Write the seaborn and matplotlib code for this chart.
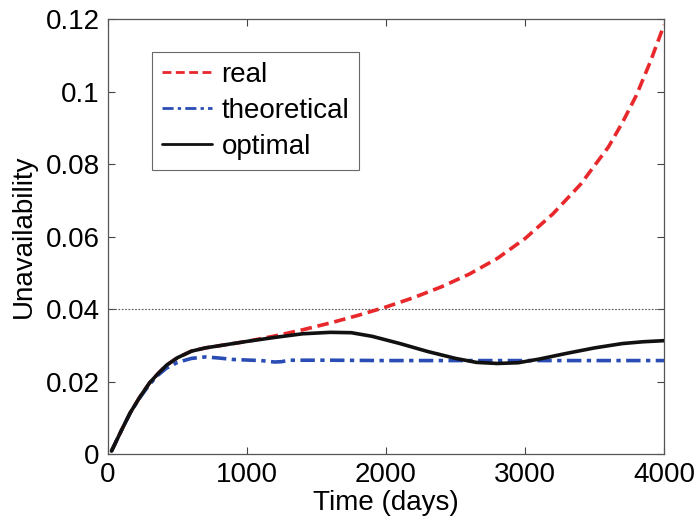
import numpy as np
import pandas as pd
import matplotlib
matplotlib.use("Agg")
import matplotlib.pyplot as plt
import seaborn as sns

# ---- data ----
opt_x = [25, 100, 160, 230, 300, 360, 420, 500, 600, 700, 800, 1000, 1200, 1400,
         1600, 1750, 1900, 2100, 2300, 2500, 2650, 2800, 2950, 3100, 3300, 3500,
         3700, 3850, 4000]
opt_y = [0.0008, 0.0068, 0.0114, 0.0158, 0.0197, 0.0222, 0.0245, 0.0266, 0.0284,
         0.0293, 0.0299, 0.0311, 0.0322, 0.0332, 0.0336, 0.0335, 0.0325, 0.0305,
         0.0283, 0.0264, 0.0253, 0.0250, 0.0252, 0.0262, 0.0278, 0.0293, 0.0305,
         0.0310, 0.0313]

theo_x = [25, 100, 160, 230, 300, 360, 420, 500, 600, 700, 800, 900, 1100, 1200,
          1250, 1300, 1600, 2000, 2500, 3000, 3500, 4000]
theo_y = [0.0008, 0.0068, 0.0114, 0.0156, 0.0193, 0.0218, 0.0237, 0.0253, 0.0264,
          0.0268, 0.0265, 0.0261, 0.0258, 0.0254, 0.0255, 0.0259, 0.0259, 0.0258,
          0.0258, 0.0258, 0.0258, 0.0258]

real_x = [25, 100, 160, 230, 300, 360, 420, 500, 600, 700, 800, 1000, 1200, 1400,
          1600, 1800, 2000, 2200, 2400, 2600, 2800, 3000, 3200, 3400, 3600, 3700,
          3800, 3900, 4000]
real_y = [0.0008, 0.0068, 0.0114, 0.0158, 0.0197, 0.0222, 0.0245, 0.0266, 0.0284,
          0.0293, 0.0299, 0.0311, 0.0326, 0.0343, 0.0362, 0.0383, 0.0406, 0.0432,
          0.0462, 0.0497, 0.0540, 0.0595, 0.0663, 0.0745, 0.0848, 0.0915, 0.0990,
          0.1082, 0.1185]

threshold = 0.04
x_ticks = [0, 1000, 2000, 3000, 4000]
y_ticks = [0, 0.02, 0.04, 0.06, 0.08, 0.1, 0.12]
y_tick_labels = ["0", "0.02", "0.04", "0.06", "0.08", "0.1", "0.12"]

series_names = ["real", "theoretical", "optimal"]

df = pd.concat([
    pd.DataFrame({"t": real_x, "u": real_y, "series": "real"}),
    pd.DataFrame({"t": theo_x, "u": theo_y, "series": "theoretical"}),
    pd.DataFrame({"t": opt_x, "u": opt_y, "series": "optimal"}),
], ignore_index=True)

# ---- style ----
sns.set_style("white")
plt.rcParams["font.family"] = ["Liberation Sans", "DejaVu Sans"]
plt.rcParams["text.color"] = "black"
plt.rcParams["axes.labelcolor"] = "black"
plt.rcParams["xtick.color"] = "black"
plt.rcParams["ytick.color"] = "black"

fig = plt.figure(figsize=(6.96, 5.24), dpi=100)
ax = fig.add_axes([0.1552, 0.1336, 0.7989, 0.8292])

colors = {"real": "#e8282b", "theoretical": "#2a4db5", "optimal": "#111111"}
styles = {"real": (0, (3.2, 1.6)), "theoretical": (0, (4, 1.5, 1.2, 1.5)), "optimal": "-"}

for name in series_names:
    sub = df[df["series"] == name]
    sns.lineplot(data=sub, x="t", y="u", ax=ax, color=colors[name],
                 linewidth=2.6, linestyle=styles[name], label=name,
                 estimator=None, sort=True, zorder=3 if name == "optimal" else 2)

ax.axhline(threshold, color="#555555", linewidth=0.8, linestyle=(0, (1.5, 1.5)), zorder=1)

ax.set_xlim(0, 4000)
ax.set_ylim(0, 0.12)
ax.set_xticks(x_ticks)
ax.set_xticklabels([str(v) for v in x_ticks])
ax.set_yticks(y_ticks)
ax.set_yticklabels(y_tick_labels)
ax.tick_params(direction="in", length=5, width=0.8, color="#444444",
               labelcolor="black", labelsize=20, top=True, right=True, pad=6,
               bottom=True, left=True)
for s in ax.spines.values():
    s.set_color("#555555")
    s.set_linewidth(0.9)

ax.set_xlabel("Time (days)", fontsize=20, labelpad=1, color="black")
ax.set_ylabel("Unavailability", fontsize=20, labelpad=6, color="black")

leg = ax.legend(loc="upper left", bbox_to_anchor=(0.079, 0.925), fontsize=20,
                frameon=True, fancybox=False, edgecolor="#444444",
                handlelength=1.8, handletextpad=0.35, borderpad=0.35,
                labelspacing=0.36, borderaxespad=0)
leg.get_frame().set_linewidth(0.8)
for text in leg.get_texts():
    text.set_color("black")
for line in leg.get_lines():
    line.set_linewidth(2.0)

fig.savefig("out.png", dpi=100)
